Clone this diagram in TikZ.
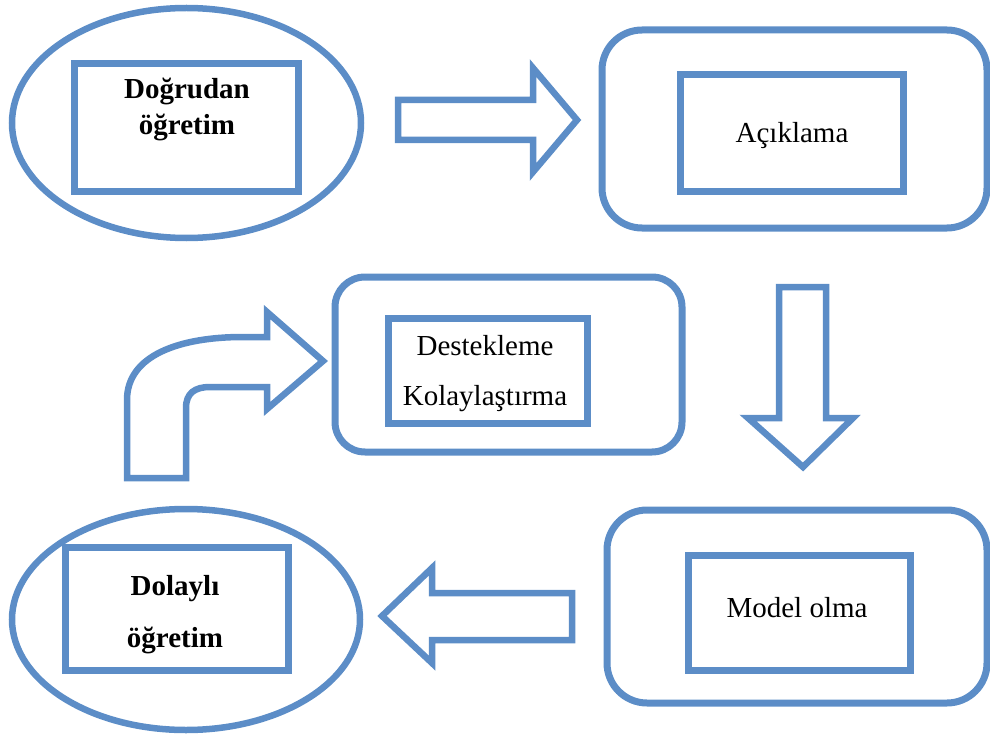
\documentclass[tikz,border=0pt]{standalone}
\usepackage{fontspec}
\setmainfont{Liberation Serif}
\usetikzlibrary{shapes.geometric}
\definecolor{frameblue}{RGB}{92,141,199}
\begin{document}
\begin{tikzpicture}[x=1pt,y=-1pt,
  ring/.style={ellipse, draw=frameblue, line width=6.5pt, inner sep=0pt},
  panel/.style={rectangle, draw=frameblue, line width=7pt, inner sep=0pt},
  innerbox/.style={rectangle, draw=frameblue, line width=7pt, inner sep=0pt},
  boldlabel/.style={anchor=base, inner sep=0pt, font=\fontsize{29}{29}\selectfont\bfseries},
  plainlabel/.style={anchor=base, inner sep=0pt, font=\fontsize{29}{29}\selectfont},
  blockarrow/.style={draw=frameblue, line width=6.5pt, fill=white, line join=miter}]
\useasboundingbox (0,0) rectangle (990,738);

% outer frames
\node[ring, minimum width=349pt, minimum height=230pt] (direct) at (186.5,123) {};
\node[panel, rounded corners=40pt, minimum width=385pt, minimum height=198pt] (explain) at (794.5,129) {};
\node[panel, rounded corners=30pt, minimum width=347pt, minimum height=175pt] (support) at (508.5,364.5) {};
\node[panel, rounded corners=40pt, minimum width=380pt, minimum height=193pt] (model) at (797,606.5) {};
\node[ring, minimum width=348pt, minimum height=221pt] (indirect) at (186,619.5) {};

% inner boxes
\node[innerbox, minimum width=224pt, minimum height=128pt] (directbox) at (186,128) {};
\node[innerbox, minimum width=223pt, minimum height=117pt] (explainbox) at (791.5,133.5) {};
\node[innerbox, minimum width=199pt, minimum height=105pt] (supportbox) at (487.5,370.5) {};
\node[innerbox, minimum width=222pt, minimum height=115pt] (modelbox) at (799,612.5) {};
\node[innerbox, minimum width=223pt, minimum height=123pt] (indirectbox) at (176.5,608.5) {};

% labels
\node[boldlabel] (directa) at (187,99) {Doğrudan};
\node[boldlabel] (directb) at (187,135) {öğretim};
\node[plainlabel] (explaint) at (792,143) {Açıklama};
\node[plainlabel] (supporta) at (485,355) {Destekleme};
\node[plainlabel] (supportb) at (485,405) {Kolaylaştırma};
\node[plainlabel] (modelt) at (797,617) {Model olma};
\node[boldlabel] (indirecta) at (175,595) {Dolaylı};
\node[boldlabel] (indirectb) at (175,647) {öğretim};

% block arrows
\draw[blockarrow] (398,100) -- (533,100) -- (533,68) -- (577,120) -- (533,172)
  -- (533,140) -- (398,140) -- cycle;
\draw[blockarrow] (779,287) -- (826,287) -- (826,418) -- (853,418) -- (803,467)
  -- (748,418) -- (779,418) -- cycle;
\draw[blockarrow] (572,593) -- (432,593) -- (432,568) -- (382,616) -- (432,663)
  -- (432,640) -- (572,640) -- cycle;
\draw[blockarrow] (127,478) -- (127,400) .. controls (127,355) and (180,337) .. (243,337)
  -- (267,337) -- (267,312) -- (323,361) -- (267,409) -- (267,387) -- (210,387)
  .. controls (195,387) and (186,393) .. (186,408) -- (186,478) -- cycle;
\end{tikzpicture}
\end{document}
